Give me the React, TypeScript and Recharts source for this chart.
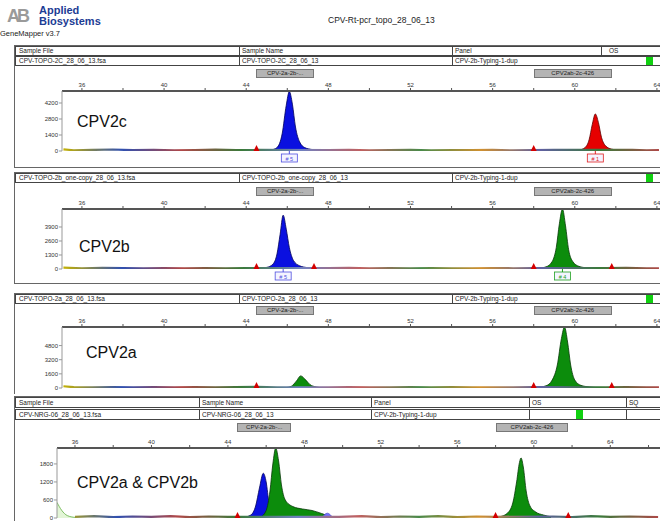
import { ComposedChart, Area, Line, Scatter, XAxis, YAxis, ReferenceDot } from 'recharts'

type Pt = [number, number]

const FONT = 'Arial, "Liberation Sans", sans-serif'

// size axis (bp)
const minorTicks = [36, 38, 40, 42, 44, 46, 48, 50, 52, 54, 56, 58, 60, 62, 64]
const minorTicksWide = [36, 38, 40, 42, 44, 46, 48, 50, 52, 54, 56, 58, 60, 62, 64, 66]
const labelTicks = [36, 40, 44, 48, 52, 56, 60, 64]
const binNames = ['CPV-2a-2b-...', 'CPV2ab-2c-426']
const binStart = [44.5, 58.0]
const binEnd = [47.3, 61.8]

// panel 1 - CPV2c
const p1YTicks = [0, 1400, 2800, 4200]
const p1Blue: Pt[] = [[44.8, 40], [45.2, 90], [45.5, 300], [45.75, 1500], [45.95, 4000], [46.1, 5200], [46.25, 4100], [46.4, 2100], [46.6, 800], [46.85, 300], [47.2, 130], [47.6, 50], [48.0, 20]]
const p1Red: Pt[] = [[59.8, 30], [60.2, 80], [60.5, 300], [60.7, 1000], [60.85, 2300], [61.0, 3240], [61.15, 2500], [61.3, 1200], [61.5, 450], [61.8, 160], [62.2, 60], [62.6, 15]]
const p1Noise: Pt[] = [[35.1, 150], [35.6, 60], [36.5, 90], [37.5, 130], [38.5, 70], [39.5, 110], [40.5, 60], [41.5, 80], [42.5, 120], [43.5, 70], [44.5, 90], [48.0, 70], [49.0, 90], [50.0, 60], [51.0, 80], [52.0, 100], [53.0, 60], [54.0, 80], [55.0, 70], [56.0, 90], [57.0, 60], [58.0, 80], [59.0, 100], [62.8, 90], [63.5, 60], [64.1, 80]]
const p1Edges = [44.5, 58.0]
const p1AlleleX = [46.1, 61.0]
const p1AlleleText = ['# 5', '# 1']

// panel 2 - CPV2b
const p2YTicks = [0, 1300, 2600, 3900]
const p2Blue: Pt[] = [[44.6, 60], [45.0, 150], [45.3, 450], [45.5, 1400], [45.65, 3200], [45.8, 5000], [45.95, 3700], [46.1, 2000], [46.3, 800], [46.6, 300], [47.0, 120], [47.3, 40]]
const p2Green: Pt[] = [[58.2, 60], [58.6, 200], [58.9, 700], [59.1, 2000], [59.25, 4200], [59.4, 5570], [59.55, 4000], [59.7, 1800], [59.9, 700], [60.2, 250], [60.6, 100], [61.0, 40]]
const p2Noise: Pt[] = [[35.1, 120], [36.0, 70], [37.0, 110], [38.0, 90], [39.0, 60], [40.0, 80], [41.0, 60], [42.0, 90], [43.0, 70], [44.0, 80], [48.0, 80], [49.0, 100], [50.0, 70], [51.0, 90], [52.0, 60], [53.0, 80], [54.0, 70], [55.0, 60], [56.0, 90], [57.0, 70], [58.0, 80], [61.5, 80], [62.5, 100], [63.5, 70], [64.1, 60]]
const p2Edges = [44.5, 47.3, 58.0, 61.8]
const p2AlleleX = [45.8, 59.4]
const p2AlleleText = ['# 5', '# 4']

// panel 3 - CPV2a
const p3YTicks = [0, 1600, 3200, 4800]
const p3Green: Pt[] = [[45.9, 30], [46.2, 200], [46.45, 800], [46.65, 1370], [46.9, 900], [47.1, 400], [47.4, 120], [47.7, 30]]
const p3GreenB: Pt[] = [[58.2, 80], [58.6, 250], [58.9, 900], [59.15, 2600], [59.35, 5600], [59.5, 6900], [59.65, 5200], [59.8, 2600], [60.0, 900], [60.3, 300], [60.7, 120], [61.1, 40]]
const p3Noise: Pt[] = [[35.1, 200], [35.6, 90], [36.5, 70], [37.5, 100], [38.5, 60], [39.5, 90], [40.5, 80], [41.5, 110], [42.5, 70], [43.5, 90], [44.5, 120], [45.5, 80], [48.0, 70], [49.0, 90], [50.0, 60], [51.0, 80], [52.0, 100], [53.0, 70], [54.0, 90], [55.0, 60], [56.0, 80], [57.0, 70], [58.0, 90], [61.5, 80], [62.5, 110], [63.5, 70], [64.1, 80]]
const p3Edges = [44.5, 58.0, 61.8]

// panel 4 - CPV2a & CPV2b
const p4YTicks = [0, 600, 1200, 1800]
const p4Blue: Pt[] = [[44.8, 20], [45.2, 100], [45.45, 400], [45.65, 1000], [45.85, 1490], [46.0, 1200], [46.15, 500], [46.3, 150], [46.5, 40]]
const p4Green: Pt[] = [[45.7, 30], [46.0, 250], [46.2, 900], [46.35, 1800], [46.5, 2330], [46.65, 1900], [46.8, 1100], [47.0, 600], [47.4, 380], [47.9, 300], [48.4, 250], [48.9, 150], [49.3, 60]]
const p4GreenB: Pt[] = [[58.2, 40], [58.6, 150], [58.9, 500], [59.1, 1200], [59.25, 1850], [59.33, 2000], [59.45, 1700], [59.6, 900], [59.8, 400], [60.1, 200], [60.5, 100], [60.9, 40]]
const p4Primer: Pt[] = [[35.06, 520], [35.3, 260], [35.6, 80], [36.0, 20]]
const p4BlueBump: Pt[] = [[48.9, 0], [49.2, 160], [49.5, 0]]
const p4Noise: Pt[] = [[36.0, 40], [37.0, 60], [38.0, 30], [39.0, 50], [40.0, 40], [41.0, 60], [42.0, 30], [43.0, 50], [44.0, 40], [49.8, 40], [51.0, 60], [52.0, 30], [53.0, 50], [54.0, 40], [55.0, 60], [56.0, 30], [57.0, 50], [58.0, 40], [61.0, 50], [62.0, 30], [63.0, 60], [64.0, 40], [65.0, 50], [66.5, 30]]
const p4Edges = [44.5, 58.0, 61.8]

const BLUE = '#0a10e0'
const RED = '#e60000'
const GREEN = '#0c8c0c'
const noiseColors = ['#c8b400', '#3050b0', '#b04848', '#3a7a3a', '#7080c0', '#c06060', '#4a8a4a', '#d09030', '#6060a0', '#3a7a3a', '#b04848']

const pts = (a: Pt[]) => a.map(([x, y]) => ({ x, y }))

const Triangle = (p: any) => (
  <path d={`M${p.cx - 3},${p.cy} L${p.cx + 3},${p.cy} L${p.cx},${p.cy - 6} Z`} fill="#d40000" />
)

const alleleShape = (text: string, color: string) => (p: any) => (
  <g>
    <line x1={p.cx} y1={p.cy} x2={p.cx} y2={p.cy + 3} stroke={color} />
    <rect x={p.cx - 8} y={p.cy + 3} width={16} height={8} fill="#f4f4ff" stroke={color} strokeWidth={0.8} />
    <text x={p.cx} y={p.cy + 9.5} fontSize={5.5} textAnchor="middle" fill={color} fontFamily={FONT}>{text}</text>
  </g>
)

type Series = { points: Pt[]; color: string; edge: string; opacity?: number }

function Trace(props: {
  id: string; top: number; yAxisW: number; plotH: number; bottom: number
  xDomain: [number, number]; ticks: number[]; yMax: number; yTicks: number[]
  series: Series[]; noise: Pt[]; edges: number[]
  alleleX?: number[]; alleleText?: string[]; alleleColor?: string[]
}) {
  const { id, top, yAxisW, plotH, bottom, xDomain, ticks, yMax, yTicks, series, noise, edges } = props
  return (
    <div style={{ position: 'absolute', left: 14, top }}>
      <ComposedChart width={646} height={14 + plotH + bottom} margin={{ top: 0, right: 0, bottom, left: 0 }}>
        <defs>
          <linearGradient id={`noise-${id}`} gradientUnits="userSpaceOnUse" x1={yAxisW} x2={646} y1={0} y2={0}>
            {noiseColors.map((c, i) => (
              <stop key={i} offset={i / (noiseColors.length - 1)} stopColor={c} />
            ))}
          </linearGradient>
        </defs>
        <XAxis
          dataKey="x" type="number" orientation="top" domain={xDomain} ticks={ticks} interval={0}
          allowDataOverflow height={14} tickSize={3} tickMargin={1}
          tickFormatter={(v: number) => (labelTicks.includes(v) ? String(v) : '')}
          tick={{ fontSize: 6, fill: '#333', fontFamily: FONT }}
          axisLine={{ stroke: '#555', strokeWidth: 2 }} tickLine={{ stroke: '#555' }}
        />
        <YAxis
          dataKey="y" type="number" domain={[0, yMax]} ticks={yTicks} interval={0} allowDataOverflow
          width={yAxisW} tickSize={3} tickMargin={1}
          tick={{ fontSize: 6, fill: '#333', fontFamily: FONT }}
          axisLine={{ stroke: '#999' }} tickLine={{ stroke: '#999' }}
        />
        <Line data={pts(noise)} dataKey="y" type="linear" stroke={`url(#noise-${id})`} strokeWidth={2.2} dot={false} activeDot={false} isAnimationActive={false} />
        {series.map((s, i) => (
          <Area
            key={i} data={pts(s.points)} dataKey="y" type="monotone" fill={s.color} fillOpacity={s.opacity ?? 1}
            stroke={s.edge} strokeWidth={0.8} dot={false} activeDot={false} isAnimationActive={false}
          />
        ))}
        <Scatter data={edges.map((x) => ({ x, y: 0 }))} dataKey="y" shape={Triangle} isAnimationActive={false} />
        {(props.alleleX || []).map((x, i) => (
          <ReferenceDot
            key={i} x={x} y={0} ifOverflow="visible"
            shape={alleleShape(props.alleleText![i], props.alleleColor![i])}
          />
        ))}
      </ComposedChart>
    </div>
  )
}

function Cells(props: { top: number; h: number; xs: number[]; texts: string[]; seps: number[]; green?: number }) {
  return (
    <div style={{ position: 'absolute', left: 15, top: props.top, width: 660, height: props.h, border: '1px solid #444', boxSizing: 'border-box', background: '#fff' }}>
      {props.seps.map((s, i) => (
        <div key={i} style={{ position: 'absolute', left: s - 15, top: 0, width: 1, height: props.h - 2, background: '#444' }} />
      ))}
      {props.texts.map((t, i) => (
        <div key={i} style={{ position: 'absolute', left: props.xs[i] - 15, top: 0, fontSize: 6.5, lineHeight: `${props.h - 2}px`, color: '#222', fontFamily: FONT, whiteSpace: 'nowrap' }}>{t}</div>
      ))}
      {props.green !== undefined && (
        <div style={{ position: 'absolute', left: props.green - 15, top: 0, width: 7, height: props.h - 2, background: '#10d010' }} />
      )}
    </div>
  )
}

function BinBoxes(props: { top: number; plotLeft: number; plotW: number; xDomain: [number, number] }) {
  const { top, plotLeft, plotW, xDomain } = props
  const px = (v: number) => plotLeft + ((v - xDomain[0]) / (xDomain[1] - xDomain[0])) * plotW
  return (
    <>
      {binNames.map((n, i) => (
        <div key={i} style={{
          position: 'absolute', left: px(binStart[i]), top, width: px(binEnd[i]) - px(binStart[i]), height: 9,
          background: '#b4b4b4', border: '1px solid #777', boxSizing: 'border-box', fontSize: 6, lineHeight: '7px',
          textAlign: 'center', color: '#222', fontFamily: FONT, whiteSpace: 'nowrap', overflow: 'hidden',
        }}>{n}</div>
      ))}
    </>
  )
}

function Frame(props: { top: number; height: number }) {
  return <div style={{ position: 'absolute', left: 14, top: props.top, width: 660, height: props.height, border: '1px solid #666', boxSizing: 'border-box' }} />
}

function Label(props: { x: number; y: number; text: string }) {
  return <div style={{ position: 'absolute', left: props.x, top: props.y - 9, fontSize: 16, lineHeight: '18px', fontFamily: FONT, color: '#111', whiteSpace: 'nowrap' }}>{props.text}</div>
}

const dom13: [number, number] = [35.03, 64.15]
const dom4: [number, number] = [35.06, 66.6]

export default function App() {
  return (
    <div style={{ position: 'absolute', left: 0, top: 0, width: 660, height: 521, overflow: 'hidden', background: '#fff', fontFamily: FONT }}>
      {/* header */}
      <div style={{ position: 'absolute', left: 7, top: 6, fontSize: 18, lineHeight: '20px', fontWeight: 700, color: '#9a9a9a', letterSpacing: -3, fontFamily: FONT }}>AB</div>
      <div style={{ position: 'absolute', left: 39, top: 5, fontSize: 11, lineHeight: '11px', fontWeight: 700, color: '#1c3c94', fontFamily: FONT }}>Applied</div>
      <div style={{ position: 'absolute', left: 39, top: 16, fontSize: 11, lineHeight: '11px', fontWeight: 700, color: '#1c3c94', fontFamily: FONT }}>Biosystems</div>
      <div style={{ position: 'absolute', left: 0, top: 29, fontSize: 7.5, lineHeight: '9px', color: '#222', fontFamily: FONT }}>GeneMapper v3.7</div>
      <div style={{ position: 'absolute', left: 328, top: 15, fontSize: 8.5, color: '#222', fontFamily: FONT }}>CPV-Rt-pcr_topo_28_06_13</div>

      {/* panel 1 */}
      <Frame top={45} height={123} />
      <Cells top={46} h={10} xs={[18, 241, 454, 608]} texts={['Sample File', 'Sample Name', 'Panel', 'OS']} seps={[238, 451, 600]} />
      <Cells top={56} h={10} xs={[18, 241, 454]} texts={['CPV-TOPO-2C_28_06_13.fsa', 'CPV-TOPO-2C_28_06_13', 'CPV-2b-Typing-1-dup']} seps={[238, 451]} green={645} />
      <BinBoxes top={69} plotLeft={62} plotW={598} xDomain={dom13} />
      <Trace id="p1" top={77} yAxisW={48} plotH={60} bottom={14} xDomain={dom13} ticks={minorTicks} yMax={5250} yTicks={p1YTicks}
        series={[{ points: p1Blue, color: BLUE, edge: '#00005a' }, { points: p1Red, color: RED, edge: '#600000' }]}
        noise={p1Noise} edges={p1Edges} alleleX={p1AlleleX} alleleText={p1AlleleText} alleleColor={['#5050e0', '#e02020']} />
      <Label x={77} y={122} text="CPV2c" />

      {/* panel 2 */}
      <Frame top={172} height={112} />
      <Cells top={173} h={10} xs={[18, 241, 454]} texts={['CPV-TOPO-2b_one-copy_28_06_13.fsa', 'CPV-TOPO-2b_one-copy_28_06_13', 'CPV-2b-Typing-1-dup']} seps={[238, 451]} green={645} />
      <BinBoxes top={187} plotLeft={62} plotW={598} xDomain={dom13} />
      <Trace id="p2" top={195} yAxisW={48} plotH={60} bottom={14} xDomain={dom13} ticks={minorTicks} yMax={5570} yTicks={p2YTicks}
        series={[{ points: p2Blue, color: BLUE, edge: '#00005a' }, { points: p2Green, color: GREEN, edge: '#063806' }]}
        noise={p2Noise} edges={p2Edges} alleleX={p2AlleleX} alleleText={p2AlleleText} alleleColor={['#5050e0', '#20a020']} />
      <Label x={79} y={247} text="CPV2b" />

      {/* panel 3 */}
      <Frame top={293} height={110} />
      <Cells top={294} h={10} xs={[18, 241, 454]} texts={['CPV-TOPO-2a_28_06_13.fsa', 'CPV-TOPO-2a_28_06_13', 'CPV-2b-Typing-1-dup']} seps={[238, 451]} green={645} />
      <BinBoxes top={306} plotLeft={62} plotW={598} xDomain={dom13} />
      <Trace id="p3" top={313} yAxisW={48} plotH={61} bottom={6} xDomain={dom13} ticks={minorTicks} yMax={6900} yTicks={p3YTicks}
        series={[{ points: p3Green, color: GREEN, edge: '#063806' }, { points: p3GreenB, color: GREEN, edge: '#063806' }]}
        noise={p3Noise} edges={p3Edges} />
      <Label x={86} y={353} text="CPV2a" />

      {/* panel 4 */}
      <div style={{ position: 'absolute', left: 0, top: 394, width: 660, height: 130, background: '#fff' }} />
      <Frame top={396} height={140} />
      <Cells top={397} h={11} xs={[18, 201, 373, 531, 628]} texts={['Sample File', 'Sample Name', 'Panel', 'OS', 'SQ']} seps={[198, 370, 528, 625]} />
      <Cells top={409} h={11} xs={[18, 201, 373]} texts={['CPV-NRG-06_28_06_13.fsa', 'CPV-NRG-06_28_06_13', 'CPV-2b-Typing-1-dup']} seps={[198, 370, 528, 625]} green={575} />
      <BinBoxes top={423} plotLeft={57} plotW={603} xDomain={dom4} />
      <Trace id="p4" top={434} yAxisW={43} plotH={70} bottom={10} xDomain={dom4} ticks={minorTicksWide} yMax={2330} yTicks={p4YTicks}
        series={[
          { points: p4Primer, color: '#c8ecb0', edge: '#60b040', opacity: 0.5 },
          { points: p4Blue, color: BLUE, edge: '#00005a' },
          { points: p4Green, color: GREEN, edge: '#063806' },
          { points: p4BlueBump, color: '#7070ff', edge: '#5050d0' },
          { points: p4GreenB, color: GREEN, edge: '#063806' },
        ]}
        noise={p4Noise} edges={p4Edges} />
      <Label x={77} y={483} text="CPV2a & CPV2b" />
    </div>
  )
}
